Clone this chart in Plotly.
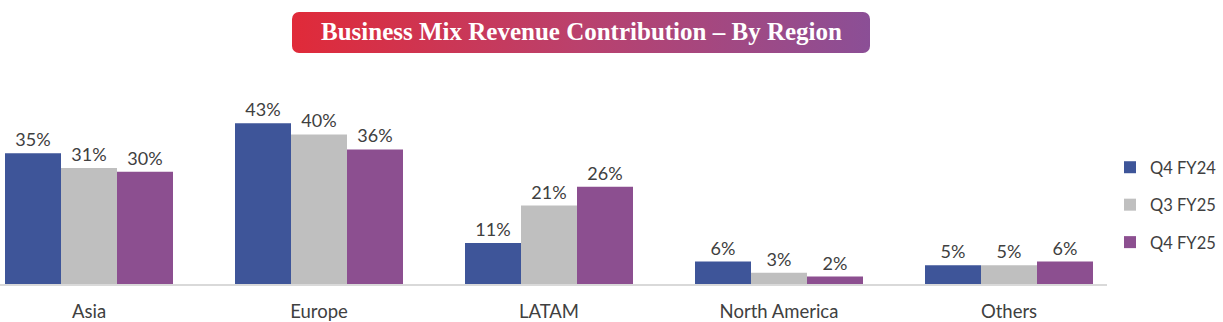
import base64
import plotly.graph_objects as go

categories = ["Asia", "Europe", "LATAM", "North America", "Others"]
series_names = ["Q4 FY24", "Q3 FY25", "Q4 FY25"]
q4_fy24 = [35, 43, 11, 6, 5]
q3_fy25 = [31, 40, 21, 3, 5]
q4_fy25 = [30, 36, 26, 2, 6]
colors = ["#3E5599", "#BFBFBF", "#8C4F90"]
title_text = "Business Mix Revenue Contribution – By Region"

W, H = 1223, 322
ML, MR, MT, MB = 0, 116, 90, 38
plot_w = W - ML - MR

fig = go.Figure()
xs = list(range(len(categories)))
for name, vals, col in zip(series_names, [q4_fy24, q3_fy25, q4_fy25], colors):
    fig.add_trace(go.Bar(
        x=xs, y=vals, name=name, legendgroup=name,
        marker=dict(color=col, line=dict(width=0)),
        text=[f"{v}%" for v in vals], textposition="outside",
        textfont=dict(family="Lato, Carlito, sans-serif", size=18, color="#404040"),
        cliponaxis=False,
    ))

# x range so that category centres land at pixel 89 + 230*i
x0 = -89 / 230
x1 = (plot_w - 89) / 230

svg = (
    '<svg xmlns="http://www.w3.org/2000/svg" width="578" height="41" viewBox="0 0 578 41">'
    '<defs><linearGradient id="g" x1="0" y1="0" x2="1" y2="0">'
    '<stop offset="0" stop-color="#E02A39"/>'
    '<stop offset="0.5" stop-color="#BA416D"/>'
    '<stop offset="1" stop-color="#8B4F96"/>'
    '</linearGradient></defs>'
    '<rect x="0" y="0" width="578" height="41" rx="7" ry="7" fill="url(#g)"/></svg>'
)
uri = "data:image/svg+xml;base64," + base64.b64encode(svg.encode()).decode()

fig.update_layout(
    width=W, height=H,
    margin=dict(l=ML, r=MR, t=MT, b=MB, pad=0, autoexpand=False),
    paper_bgcolor="white", plot_bgcolor="white",
    barmode="group", bargap=62 / 230, bargroupgap=0,
    font=dict(family="Lato, Carlito, sans-serif", size=16, color="#404040"),
    xaxis=dict(
        range=[x0, x1], tickvals=xs, ticktext=categories,
        showgrid=False, zeroline=False, showline=True, linecolor="#D9D9D9", linewidth=1.5,
        ticks="", ticklabelstandoff=10, automargin=False,
        tickfont=dict(family="Lato, Carlito, sans-serif", size=18.5, color="#404040"),
        fixedrange=True,
    ),
    yaxis=dict(range=[0, 51.9], visible=False, fixedrange=True),
    showlegend=True,
    legend=dict(
        xref="container", yref="container",
        x=1110 / W, xanchor="left", y=1 - 205 / H, yanchor="middle",
        font=dict(family="Lato, Carlito, sans-serif", size=16.5, color="#404040"),
        itemwidth=30,
        tracegroupgap=13, bgcolor="rgba(0,0,0,0)",
    ),
    images=[dict(
        source=uri, xref="paper", yref="paper",
        x=(292 - ML) / plot_w, y=1 + (MT - 12) / (H - MT - MB),
        sizex=578 / plot_w, sizey=41 / (H - MT - MB),
        xanchor="left", yanchor="top", sizing="stretch", layer="below",
    )],
    annotations=[dict(
        text=f"<b>{title_text}</b>", xref="paper", yref="paper",
        x=(581 - ML) / plot_w, y=1 + (MT - 32) / (H - MT - MB),
        xanchor="center", yanchor="middle", showarrow=False,
        font=dict(family="Liberation Serif, DejaVu Serif, serif", size=25, color="white"),
    )],
)

fig.write_html("out.html")
